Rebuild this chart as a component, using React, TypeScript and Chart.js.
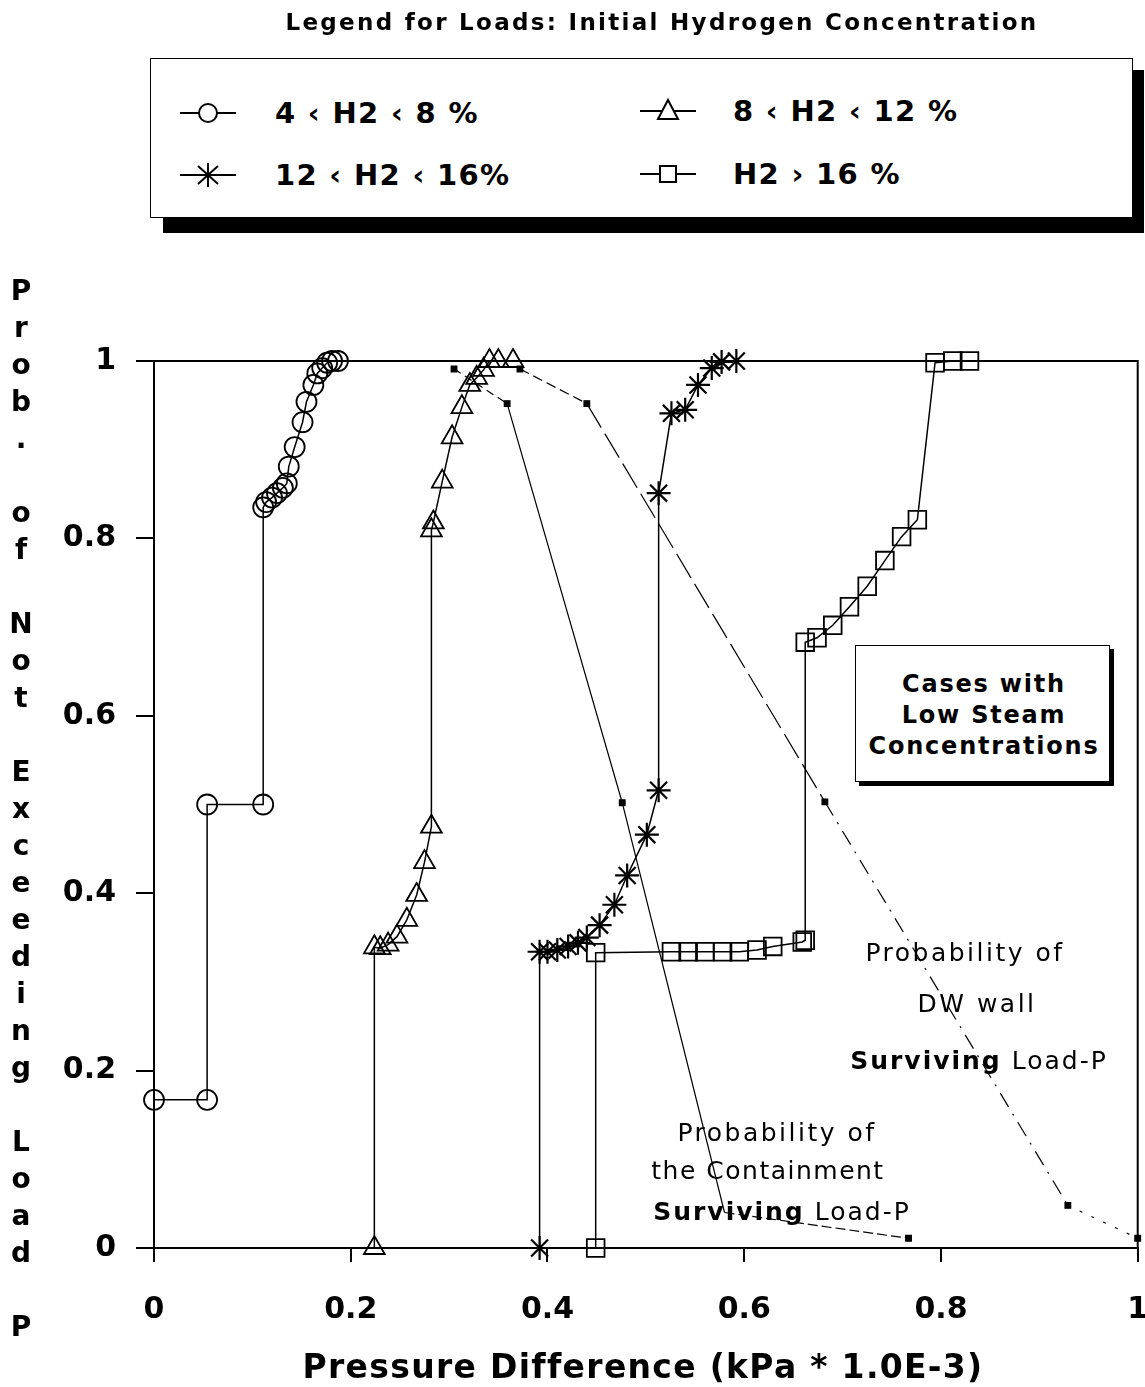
import React, { useEffect, useRef } from "react";
import { Chart, registerables } from "chart.js";

Chart.register(...registerables);

const W = 1145;
const H = 1387;
const CW = 1152; // canvas slightly wider than page; wrapper clips the overflow
const ink = "#000";

// ---- tick labels ----
const xTicks = [0, 0.2, 0.4, 0.6, 0.8, 1];
const yTicks = [0, 0.2, 0.4, 0.6, 0.8, 1];

// ---- load series (initial hydrogen concentration) ----
const seriesNames = ["4 ‹ H2 ‹ 8 %", "8 ‹ H2 ‹ 12 %", "12 ‹ H2 ‹ 16%", "H2 › 16 %"];

const h2Low_x = [0, 0.054, 0.054, 0.111, 0.111, 0.114, 0.12, 0.125, 0.131, 0.135, 0.137, 0.143, 0.151, 0.155, 0.162, 0.166, 0.171, 0.176, 0.181, 0.187];
const h2Low_y = [0.167, 0.167, 0.5, 0.5, 0.835, 0.841, 0.846, 0.851, 0.857, 0.862, 0.881, 0.903, 0.931, 0.954, 0.973, 0.986, 0.992, 0.998, 1.0, 1.0];

const h2Mid_x = [0.224, 0.224, 0.23, 0.238, 0.247, 0.257, 0.267, 0.275, 0.282, 0.282, 0.284, 0.293, 0.303, 0.313, 0.321, 0.328, 0.335, 0.341, 0.35, 0.365];
const h2Mid_y = [0, 0.339, 0.338, 0.342, 0.351, 0.37, 0.398, 0.435, 0.475, 0.809, 0.818, 0.864, 0.914, 0.948, 0.973, 0.981, 0.99, 1.0, 1.0, 1.0];

const h2High_x = [0.392, 0.392, 0.4, 0.41, 0.421, 0.431, 0.44, 0.453, 0.468, 0.481, 0.501, 0.513, 0.513, 0.526, 0.54, 0.553, 0.567, 0.577, 0.592];
const h2High_y = [0, 0.334, 0.334, 0.336, 0.34, 0.344, 0.35, 0.364, 0.387, 0.42, 0.466, 0.516, 0.851, 0.941, 0.945, 0.973, 0.992, 0.999, 1.0];

const h2VHigh_x = [0.449, 0.449, 0.526, 0.543, 0.56, 0.578, 0.595, 0.613, 0.629, 0.659, 0.662, 0.662, 0.674, 0.69, 0.707, 0.725, 0.743, 0.76, 0.776, 0.794, 0.812, 0.829];
const h2VHigh_y = [0, 0.333, 0.334, 0.334, 0.334, 0.334, 0.334, 0.336, 0.34, 0.345, 0.347, 0.683, 0.688, 0.702, 0.723, 0.746, 0.775, 0.802, 0.821, 0.998, 1.0, 1.0];

// ---- fragility (survival) curves ----
const contain_x = [0.305, 0.359, 0.476, 0.58, 0.767];
const contain_y = [0.991, 0.952, 0.502, 0.04, 0.011];

const dwWall_x = [0.372, 0.44, 0.682, 0.929, 1.0];
const dwWall_y = [0.991, 0.952, 0.503, 0.048, 0.011];

const pts = (xs: number[], ys: number[]) => xs.map((x, i) => ({ x, y: ys[i] }));
const fmt = (v: number) => (v === 0 ? "0" : v === 1 ? "1" : v.toFixed(1));

const tickFont = { family: "'DejaVu Sans', sans-serif", weight: "bold" as const, size: 30 };

const framePlugin = {
  id: "frame",
  beforeDatasetsDraw(chart: any) {
    const { ctx, chartArea } = chart;
    ctx.save();
    ctx.strokeStyle = ink;
    ctx.lineWidth = 2;
    ctx.strokeRect(chartArea.left, chartArea.top, chartArea.right - chartArea.left, chartArea.bottom - chartArea.top);
    ctx.restore();
  },
};

function ChartCanvas() {
  const ref = useRef<HTMLCanvasElement | null>(null);
  useEffect(() => {
    if (!ref.current) return;
    const loadStyle = {
      showLine: true,
      borderColor: ink,
      borderWidth: 1.5,
      pointBorderColor: ink,
      pointBackgroundColor: "rgba(0,0,0,0)",
      pointBorderWidth: 1.8,
      clip: false as const,
      tension: 0,
    };
    const dwDash = [[10, 5], [28, 7], [16, 8, 2, 8], [3, 10]];
    const coDash = [[8, 5], [], [], [10, 4]];
    const chart = new Chart(ref.current, {
      type: "scatter",
      data: {
        datasets: [
          { ...loadStyle, label: seriesNames[0], data: pts(h2Low_x, h2Low_y), pointStyle: "circle", pointRadius: 10 },
          { ...loadStyle, label: seriesNames[1], data: pts(h2Mid_x, h2Mid_y), pointStyle: "triangle", pointRadius: 12 },
          { ...loadStyle, label: seriesNames[2], data: pts(h2High_x, h2High_y), pointStyle: "star", pointRadius: 12, pointBorderWidth: 2.2 },
          { ...loadStyle, label: seriesNames[3], data: pts(h2VHigh_x, h2VHigh_y), pointStyle: "rect", pointRadius: 12.5 },
          {
            label: "Containment survival",
            data: pts(contain_x, contain_y),
            showLine: true,
            borderColor: ink,
            borderWidth: 1.2,
            pointStyle: "rect",
            pointRadius: [4, 4, 4, 0, 4],
            pointBackgroundColor: ink,
            pointBorderColor: ink,
            clip: false,
            segment: { borderDash: (c: any) => coDash[c.p0DataIndex] || [] },
          },
          {
            label: "DW wall survival",
            data: pts(dwWall_x, dwWall_y),
            showLine: true,
            borderColor: ink,
            borderWidth: 1.2,
            pointStyle: "rect",
            pointRadius: 4,
            pointBackgroundColor: ink,
            pointBorderColor: ink,
            clip: false,
            segment: { borderDash: (c: any) => dwDash[c.p0DataIndex] || [] },
          },
        ] as any,
      },
      options: {
        responsive: false,
        devicePixelRatio: 1,
        animation: false,
        events: [],
        layout: { padding: { left: 0, right: 0, top: 361, bottom: 0 } },
        plugins: { legend: { display: false }, tooltip: { enabled: false } },
        scales: {
          x: {
            type: "linear",
            min: 0,
            max: 1,
            afterBuildTicks: (s: any) => {
              s.ticks = xTicks.map((v) => ({ value: v }));
            },
            afterFit: (s: any) => {
              s.height = 139;
              s.paddingLeft = 0;
              s.paddingRight = 0;
            },
            ticks: { callback: (v: any) => fmt(Number(v)), font: tickFont, color: ink, padding: 30, maxRotation: 0, autoSkip: false },
            grid: { drawOnChartArea: false, drawTicks: true, tickLength: 14, color: ink, lineWidth: 2 },
            border: { display: true, color: ink, width: 2 },
          },
          y: {
            type: "linear",
            min: 0,
            max: 1,
            afterBuildTicks: (s: any) => {
              s.ticks = yTicks.map((v) => ({ value: v }));
            },
            afterFit: (s: any) => {
              s.width = 154;
              s.paddingTop = 0;
              s.paddingBottom = 0;
            },
            ticks: { callback: (v: any) => fmt(Number(v)), font: tickFont, color: ink, padding: 20, autoSkip: false },
            grid: { drawOnChartArea: false, drawTicks: true, tickLength: 18, color: ink, lineWidth: 2 },
            border: { display: true, color: ink, width: 2 },
          },
        },
      } as any,
      plugins: [framePlugin],
    });
    return () => chart.destroy();
  }, []);
  return <canvas ref={ref} width={CW} height={H} style={{ position: "absolute", left: 0, top: 0, width: CW, height: H }} />;
}

const sans = "'DejaVu Sans', sans-serif";

function Txt(props: { x: number; y: number; size: number; bold?: boolean; center?: boolean; spacing?: number; children: React.ReactNode }) {
  const { x, y, size, bold, center, spacing, children } = props;
  return (
    <div
      style={{
        position: "absolute",
        left: x,
        top: y - 0.48 * size,
        fontFamily: sans,
        fontSize: size,
        fontWeight: bold ? "bold" : "normal",
        lineHeight: 1,
        whiteSpace: "nowrap",
        letterSpacing: spacing ?? 0,
        transform: center ? "translateX(-50%)" : undefined,
        color: ink,
      }}
    >
      {children}
    </div>
  );
}

function Icon(props: { kind: string; x: number; y: number }) {
  const { kind, x, y } = props;
  const c = 28;
  let sym: React.ReactNode = null;
  if (kind === "circle") sym = <circle cx={c} cy={15} r={9} fill="white" stroke={ink} strokeWidth={2} />;
  if (kind === "triangle") sym = <polygon points={`${c},4 ${c + 10},23 ${c - 10},23`} fill="white" stroke={ink} strokeWidth={2} />;
  if (kind === "rect") sym = <rect x={c - 8} y={7} width={16} height={16} fill="white" stroke={ink} strokeWidth={2} />;
  if (kind === "star")
    sym = (
      <g stroke={ink} strokeWidth={2}>
        <line x1={c} y1={3} x2={c} y2={27} />
        <line x1={c - 10} y1={6} x2={c + 10} y2={24} />
        <line x1={c + 10} y1={6} x2={c - 10} y2={24} />
      </g>
    );
  return (
    <svg width={56} height={30} style={{ position: "absolute", left: x, top: y - 15 }}>
      <line x1={0} y1={15} x2={56} y2={15} stroke={ink} strokeWidth={2} />
      {sym}
    </svg>
  );
}

const yTitle = "Prob. of Not Exceeding Load P";

export default function App() {
  const letters = yTitle.split("");
  return (
    <div style={{ position: "absolute", left: 0, top: 0, width: W, height: H, background: "white", overflow: "hidden" }}>
      <ChartCanvas />

      {/* Legend title */}
      <Txt x={662} y={22} size={23} bold center spacing={2.3}>
        Legend for Loads: Initial Hydrogen Concentration
      </Txt>

      {/* Legend shadow + box */}
      <div style={{ position: "absolute", left: 163, top: 70, width: 981, height: 163, background: ink }} />
      <div style={{ position: "absolute", left: 150, top: 58, width: 983, height: 160, background: "white", border: "1.5px solid #000", boxSizing: "border-box" }} />
      <Icon kind="circle" x={180} y={113} />
      <Txt x={275} y={113} size={29} bold spacing={1.3}>{seriesNames[0]}</Txt>
      <Icon kind="triangle" x={640} y={111} />
      <Txt x={733} y={111} size={29} bold spacing={1.3}>{seriesNames[1]}</Txt>
      <Icon kind="star" x={180} y={175} />
      <Txt x={275} y={175} size={29} bold spacing={1.3}>{seriesNames[2]}</Txt>
      <Icon kind="rect" x={640} y={174} />
      <Txt x={733} y={174} size={29} bold spacing={1.3}>{seriesNames[3]}</Txt>

      {/* Y axis title: stacked letters */}
      {letters.map((ch, i) => (
        <Txt key={i} x={21} y={290 + i * 37} size={28} bold center>
          {ch === " " ? "\u00a0" : ch}
        </Txt>
      ))}

      {/* X axis title */}
      <Txt x={643} y={1366} size={33} bold center spacing={1.3}>
        Pressure Difference (kPa * 1.0E-3)
      </Txt>

      {/* Cases box */}
      <div style={{ position: "absolute", left: 859, top: 649, width: 255, height: 137, background: ink }} />
      <div style={{ position: "absolute", left: 855, top: 645, width: 255, height: 137, background: "white", border: "1.5px solid #000", boxSizing: "border-box" }} />
      <Txt x={984} y={684} size={24} bold center spacing={1.8}>Cases with</Txt>
      <Txt x={984} y={715} size={24} bold center spacing={1.8}>Low Steam</Txt>
      <Txt x={984} y={746} size={24} bold center spacing={1.8}>Concentrations</Txt>

      {/* DW wall annotation */}
      <Txt x={965} y={952} size={25} center spacing={2.5}>Probability of</Txt>
      <Txt x={977} y={1003} size={25} center spacing={2.5}>DW wall</Txt>
      <Txt x={979} y={1060} size={25} center spacing={2}>
        <b>Surviving</b> Load-P
      </Txt>

      {/* Containment annotation */}
      <Txt x={777} y={1132} size={25} center spacing={2.5}>Probability of</Txt>
      <Txt x={768} y={1170} size={25} center spacing={1.5}>the Containment</Txt>
      <Txt x={782} y={1211} size={25} center spacing={2}>
        <b>Surviving</b> Load-P
      </Txt>
    </div>
  );
}
